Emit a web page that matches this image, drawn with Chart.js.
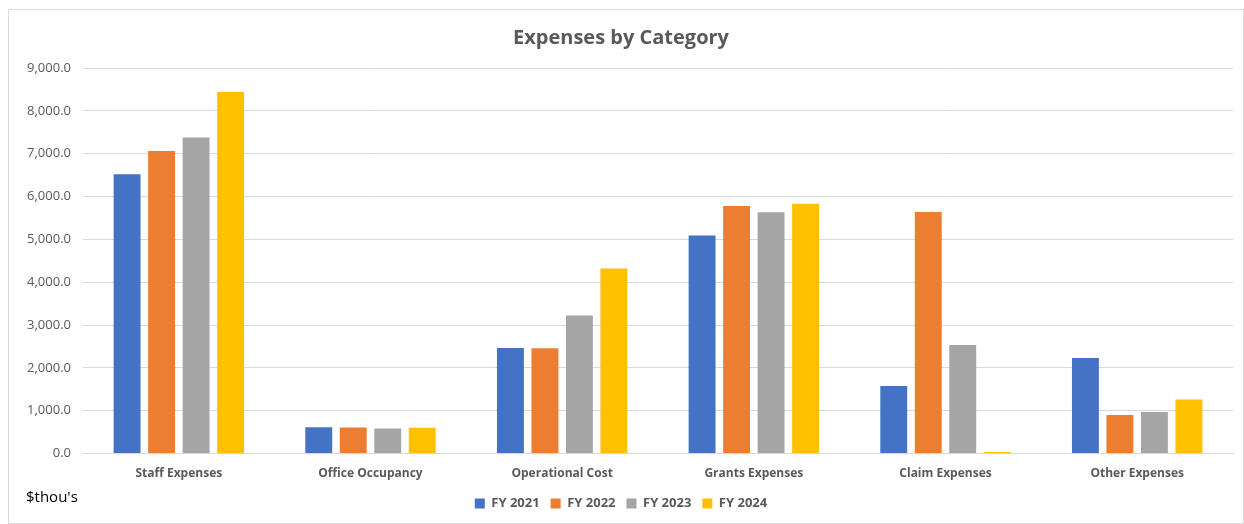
<!DOCTYPE html>
<html>
<head>
<meta charset="utf-8">
<script src="https://cdn.jsdelivr.net/npm/chart.js@4.4.1/dist/chart.umd.min.js"></script>
<style>
  html, body { margin: 0; padding: 0; background: #fff; }
  #wrap { position: absolute; left: 8px; top: 9px; width: 1234px; height: 513px; border: 1px solid #d9d9d9; }
  #units { position: absolute; left: 17px; top: 476px; font-family: "Open Sans", sans-serif; font-size: 15px; color: #000; }
</style>
</head>
<body>
<div id="wrap">
  <canvas id="chart" width="1234" height="513"></canvas>
  <div id="units">$thou's</div>
</div>
<script>
const categories = ['Staff Expenses', 'Office Occupancy', 'Operational Cost', 'Grants Expenses', 'Claim Expenses', 'Other Expenses'];
const fy2021 = [6520, 613, 2464, 5090, 1580, 2230];
const fy2022 = [7060, 610, 2460, 5780, 5640, 902];
const fy2023 = [7380, 585, 3224, 5635, 2535, 972];
const fy2024 = [8440, 605, 4320, 5830, 40, 1260];
const seriesNames = ['FY 2021', 'FY 2022', 'FY 2023', 'FY 2024'];
const seriesColors = ['#4472c4', '#ed7d31', '#a5a5a5', '#ffc000'];

const font = '"Open Sans", sans-serif';
const grey = '#595959';

const datasets = [fy2021, fy2022, fy2023, fy2024].map((vals, i) => ({
    label: seriesNames[i],
    data: vals,
    backgroundColor: seriesColors[i],
    borderWidth: 0,
    categoryPercentage: 0.72,
    barPercentage: 0.78
}));

new Chart(document.getElementById('chart'), {
    type: 'bar',
    data: { labels: categories, datasets: datasets },
    options: {
        responsive: false,
        animation: false,
        layout: { padding: { left: 0, right: 10, top: 10, bottom: 3 } },
        plugins: {
            title: {
                display: true,
                text: 'Expenses by Category',
                color: grey,
                font: { family: font, size: 20, weight: 'bold' },
                padding: { top: 6, bottom: 18 }
            },
            legend: {
                position: 'bottom',
                labels: {
                    color: grey,
                    font: { family: font, size: 13, weight: 'bold' },
                    boxWidth: 10,
                    boxHeight: 10,
                    padding: 11
                }
            },
            tooltip: { enabled: false }
        },
        scales: {
            x: {
                grid: { display: false },
                border: { color: '#d9d9d9', width: 1 },
                ticks: {
                    color: grey,
                    font: { family: font, size: 12, weight: 'bold' },
                    padding: 5
                }
            },
            y: {
                min: 0,
                max: 9000,
                afterFit: s => { s.width = 74; },
                grid: { color: '#d9d9d9', drawTicks: false },
                border: { display: false },
                ticks: {
                    stepSize: 1000,
                    color: grey,
                    padding: 12,
                    font: { family: font, size: 13 },
                    callback: v => v.toLocaleString('en-US', { minimumFractionDigits: 1, maximumFractionDigits: 1 })
                }
            }
        }
    }
});
</script>
</body>
</html>
